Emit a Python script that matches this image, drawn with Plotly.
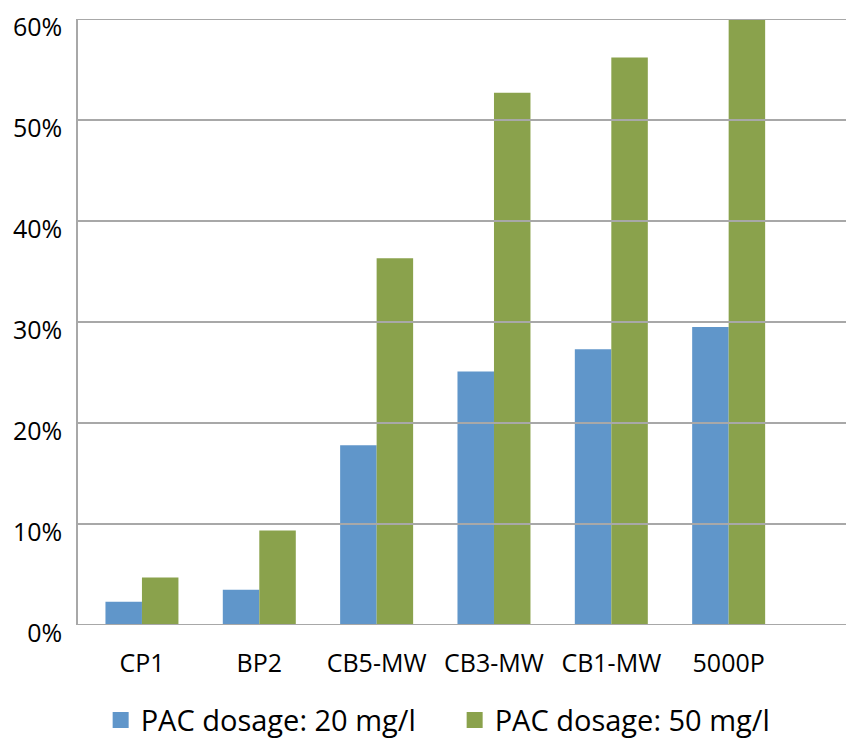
import plotly.graph_objects as go

# Removal efficiency by carbon type at two PAC dosages
categories = ["CP1", "BP2", "CB5-MW", "CB3-MW", "CB1-MW", "5000P"]
dose_20 = [2.3, 3.5, 17.8, 25.1, 27.3, 29.5]
dose_50 = [4.7, 9.35, 36.3, 52.7, 56.2, 60.0]
series_names = ["PAC dosage: 20 mg/l", "PAC dosage: 50 mg/l"]
y_ticks = [0, 10, 20, 30, 40, 50, 60]
y_tick_labels = [f"{v}%" for v in y_ticks]

BLUE = "#6096ca"
GREEN = "#8aa24c"
GRID = "#a8a8a8"
FONT = "Open Sans"

fig = go.Figure()
fig.add_trace(go.Bar(x=categories, y=dose_20, marker=dict(color=BLUE, line=dict(width=0)),
                     name=series_names[0], showlegend=False))
fig.add_trace(go.Bar(x=categories, y=dose_50, marker=dict(color=GREEN, line=dict(width=0)),
                     name=series_names[1], showlegend=False))

# legend entries with larger square swatches
for nm, col in zip(series_names, [BLUE, GREEN]):
    fig.add_trace(go.Scatter(x=[None], y=[None], mode="markers", name=nm,
                             marker=dict(symbol="square", size=16, color=col)))

# horizontal gridlines drawn over the bars
for v in y_ticks:
    fig.add_hline(y=v, line=dict(color=GRID, width=2), layer="above")

fig.update_layout(
    width=846, height=743,
    margin=dict(l=78, r=0, t=19, b=118, autoexpand=False),
    paper_bgcolor="white", plot_bgcolor="white",
    barmode="group", bargap=0.378, bargroupgap=0,
    font=dict(family=FONT, size=25, color="black"),
    legend=dict(orientation="h", x=0.0295, xanchor="left", y=-0.157, yanchor="middle",
                font=dict(family=FONT, size=29, color="black"),
                itemsizing="trace", entrywidth=309, bgcolor="rgba(0,0,0,0)"),
)
fig.update_xaxes(type="category", range=[-0.545, 6.0], showgrid=False,
                 showline=False, ticks="", ticklabelstandoff=21, fixedrange=True)
fig.update_yaxes(range=[0, 60], tickvals=y_ticks, ticktext=y_tick_labels,
                 showgrid=False, zeroline=False, showline=True, linecolor=GRID,
                 linewidth=1.5, ticks="", ticklabelstandoff=9, ticklabelshift=8,
                 fixedrange=True)

fig.write_html("out.html")
